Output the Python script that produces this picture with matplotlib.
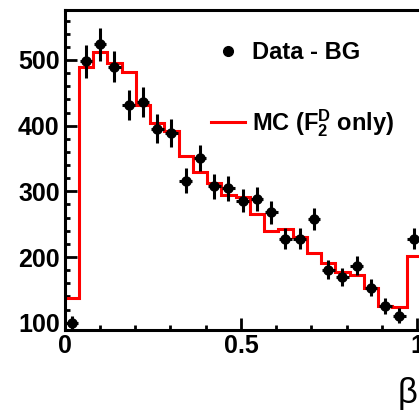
import numpy as np
import matplotlib
matplotlib.use("Agg")
import matplotlib.pyplot as plt
from matplotlib.lines import Line2D
from matplotlib.ticker import MultipleLocator, FixedLocator

plt.rcParams["font.family"] = ["Liberation Sans", "DejaVu Sans"]
plt.rcParams["mathtext.fontset"] = "custom"
plt.rcParams["mathtext.bf"] = "Liberation Sans:bold"
plt.rcParams["mathtext.rm"] = "Liberation Sans:bold"
plt.rcParams["mathtext.default"] = "bf"

# beta binning (25 bins)
bin_edges = np.linspace(0, 1.01, 26)

# data minus background
data_counts = [99, 498, 524, 490, 432, 436, 395, 389, 316, 351, 308, 305, 286,
               288, 268, 228, 228, 258, 181, 170, 187, 153, 126, 111, 228]
data_errors = [12, 25, 25, 24, 23, 23, 22, 21, 19, 20, 19, 19, 18,
               18, 18, 16, 16, 17, 14, 14, 15, 13, 12, 12, 16]

# MC (F2D only)
mc_counts = [138, 489, 512, 495, 482, 432, 404, 392, 354, 330, 312, 295, 292,
             265, 240, 243, 231, 206, 191, 178, 172, 153, 126, 124, 202]

x_ticks = [0, 0.5, 1.0]
x_ticklabels = ["0", "0.5", "1"]
y_ticks = [100, 200, 300, 400, 500]


def main():
    centers = 0.5 * (bin_edges[:-1] + bin_edges[1:])

    fig = plt.figure(figsize=(4.19, 4.12), dpi=100)
    ax = fig.add_axes([64.5 / 419, 82 / 412, 374 / 419, 320 / 412])

    ax.stairs(mc_counts, bin_edges, baseline=None, color="red", lw=2.2, zorder=2)
    ax.errorbar(centers, data_counts, yerr=data_errors, xerr=0.018, fmt="o",
                color="black", ms=6.5, elinewidth=2.2, capsize=0, zorder=3)

    ax.set_xlim(0, 1.06)
    ax.set_ylim(89, 576)

    ax.xaxis.set_major_locator(FixedLocator(x_ticks))
    ax.set_xticklabels(x_ticklabels)
    ax.xaxis.set_minor_locator(MultipleLocator(0.1))
    ax.yaxis.set_major_locator(FixedLocator(y_ticks))
    ax.yaxis.set_minor_locator(MultipleLocator(20))

    ax.tick_params(which="both", direction="in", width=2, top=False, right=False)
    ax.tick_params(which="major", length=8.5, labelsize=18)
    ax.tick_params(which="minor", length=3.6)
    ax.tick_params(axis="y", pad=3.5)
    ax.tick_params(axis="x", pad=3)
    for lab in ax.get_xticklabels() + ax.get_yticklabels():
        lab.set_fontweight("bold")
    for sp in ax.spines.values():
        sp.set_linewidth(2.2)

    h_data = Line2D([], [], marker="o", ls="none", color="black", ms=7)
    h_mc = Line2D([], [], color="red", lw=2.2)
    ax.legend([h_data, h_mc], ["Data - BG", r"MC ($F_2^D$ only)"],
              loc="upper left", bbox_to_anchor=((211 - 64.5) / 374, 0.903),
              frameon=False, prop={"weight": "bold", "size": 17},
              handlelength=1.45, handletextpad=0.3, labelspacing=1.82,
              borderpad=0, borderaxespad=0)

    fig.text(417 / 419, (412 - 394) / 412, "β", ha="right", va="center",
             fontsize=25)

    fig.savefig("out.png", dpi=100)


if __name__ == "__main__":
    main()
